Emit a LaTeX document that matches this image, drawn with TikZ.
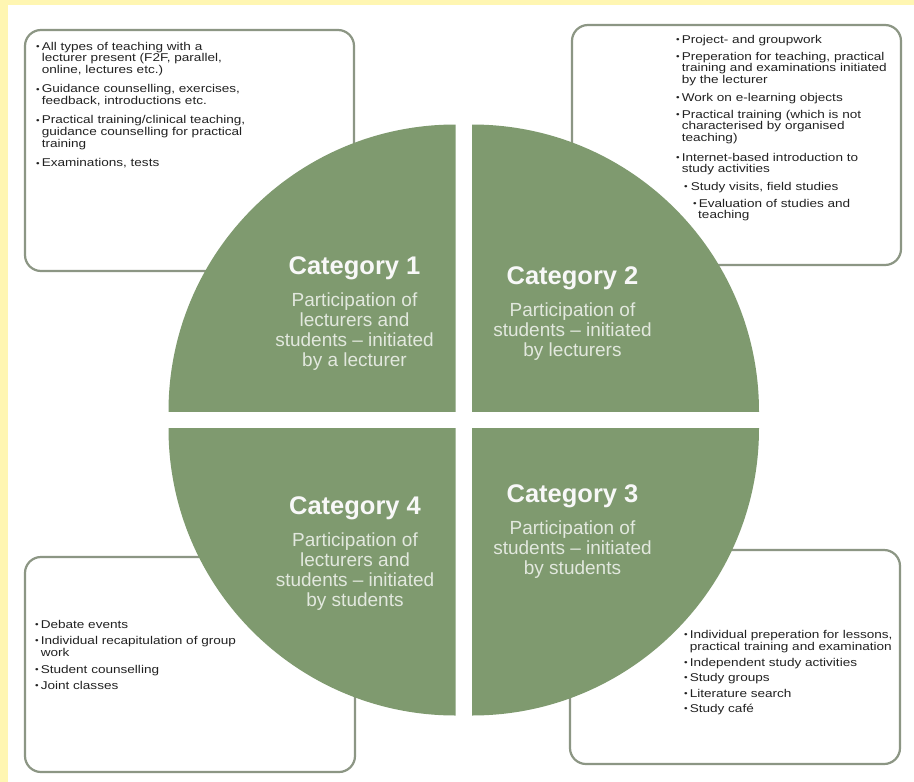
\documentclass[tikz,border=0pt]{standalone}
\usepackage{fontspec}
\setmainfont{Liberation Sans}
\newfontfamily\boxfont[FakeStretch=1.2]{Liberation Sans}
\definecolor{bgyellow}{RGB}{255,246,178}
\definecolor{qgreen}{RGB}{127,154,111}
\definecolor{boxline}{RGB}{140,150,132}
\definecolor{boxtext}{RGB}{34,34,34}
\definecolor{subtext}{RGB}{226,232,222}
\definecolor{titletext}{RGB}{248,248,248}
\newcommand{\itembul}{\raisebox{0.6pt}{\fontsize{8.5}{8.5}\selectfont •}}
\newcommand{\cattitle}[1]{{\color{titletext}\bfseries\fontsize{25.5}{26}\selectfont #1}}
\tikzset{
  infobox/.style={draw=boxline, line width=2.2pt, fill=white, rounded corners=16pt},
  quadrant/.style={fill=qgreen},
  catlabel/.style={anchor=base, inner sep=0pt, text=subtext, font=\fontsize{19}{20}\selectfont},
  boxtextstyle/.style={anchor=base west, inner sep=0pt, text=boxtext},
}
\begin{document}
\begin{tikzpicture}[x=1pt,y=-1pt]
\useasboundingbox (0,0) rectangle (914,782);
\fill[bgyellow] (0,0) rectangle (914,782);
\fill[white] (8,5) rectangle (914,782);

% info boxes
\draw[infobox] (25,30) rectangle (354,271);
\draw[infobox] (572,25) rectangle (901,265);
\draw[infobox] (25,557) rectangle (355,772);
\draw[infobox] (570,550) rectangle (900,764);

% quadrants
\begin{scope}
  \clip (160,120) rectangle (455.5,411.5);
  \fill[quadrant] (455.5,411.5) circle[radius=287];
\end{scope}
\begin{scope}
  \clip (472,120) rectangle (765,411.5);
  \fill[quadrant] (472,411.5) circle[radius=287];
\end{scope}
\begin{scope}
  \clip (472,428.5) rectangle (765,725);
  \fill[quadrant] (472,428.5) circle[radius=287];
\end{scope}
\begin{scope}
  \clip (160,428.5) rectangle (455.5,725);
  \fill[quadrant] (455.5,428.5) circle[radius=287];
\end{scope}

% category labels
\node[catlabel] (cat1) at (354.5,274) {\begin{tabular}[t]{@{}c@{}}\cattitle{Category 1}\\[12pt]
Participation of\\ lecturers and\\ students – initiated\\ by a lecturer\end{tabular}};
\node[catlabel] (cat2) at (572.5,284) {\begin{tabular}[t]{@{}c@{}}\cattitle{Category 2}\\[12pt]
Participation of\\ students – initiated\\ by lecturers\end{tabular}};
\node[catlabel] (cat3) at (572.5,502) {\begin{tabular}[t]{@{}c@{}}\cattitle{Category 3}\\[12pt]
Participation of\\ students – initiated\\ by students\end{tabular}};
\node[catlabel] (cat4) at (355,514) {\begin{tabular}[t]{@{}c@{}}\cattitle{Category 4}\\[12pt]
Participation of\\ lecturers and\\ students – initiated\\ by students\end{tabular}};

% box texts
\node[boxtextstyle] (txt1) at (36,50) {\boxfont\fontsize{11.3}{11.3}\selectfont
\begin{tabular}[t]{@{}l@{\hspace{2pt}}l@{}}
\itembul & All types of teaching with a\\
 & lecturer present (F2F, parallel,\\
 & online, lectures etc.)\\[8pt]
\itembul & Guidance counselling, exercises,\\
 & feedback, introductions etc.\\[8pt]
\itembul & Practical training/clinical teaching,\\
 & guidance counselling for practical\\
 & training\\[8pt]
\itembul & Examinations, tests
\end{tabular}};

\node[boxtextstyle] (txt2) at (676,43.5) {\boxfont\fontsize{11.3}{11.7}\selectfont
\begin{tabular}[t]{@{}l@{\hspace{2pt}}l@{}}
\itembul & Project- and groupwork\\[5pt]
\itembul & Preperation for teaching, practical\\
 & training and examinations initiated\\
 & by the lecturer\\[6pt]
\itembul & Work on e-learning objects\\[5pt]
\itembul & Practical training (which is not\\
 & characterised by organised\\
 & teaching)\\[8pt]
\itembul & Internet-based introduction to\\
 & study activities\\[6pt]
\multicolumn{2}{@{}l@{}}{\hspace{8pt}\itembul\hspace{3pt}Study visits, field studies}\\[5pt]
\multicolumn{2}{@{}l@{}}{\hspace{17pt}\itembul\hspace{2pt}Evaluation of studies and}\\
\multicolumn{2}{@{}l@{}}{\hspace{22pt}teaching}
\end{tabular}};

\node[boxtextstyle] (txt3) at (35,628) {\boxfont\fontsize{11.3}{12}\selectfont
\begin{tabular}[t]{@{}l@{\hspace{2pt}}l@{}}
\itembul & Debate events\\[4.5pt]
\itembul & Individual recapitulation of group\\
 & work\\[4.5pt]
\itembul & Student counselling\\[4.5pt]
\itembul & Joint classes
\end{tabular}};

\node[boxtextstyle] (txt4) at (684,638) {\boxfont\fontsize{11.3}{12.5}\selectfont
\begin{tabular}[t]{@{}l@{\hspace{2pt}}l@{}}
\itembul & Individual preperation for lessons,\\
 & practical training and examination\\[3pt]
\itembul & Independent study activities\\[3pt]
\itembul & Study groups\\[3pt]
\itembul & Literature search\\[3pt]
\itembul & Study café
\end{tabular}};
\end{tikzpicture}
\end{document}
